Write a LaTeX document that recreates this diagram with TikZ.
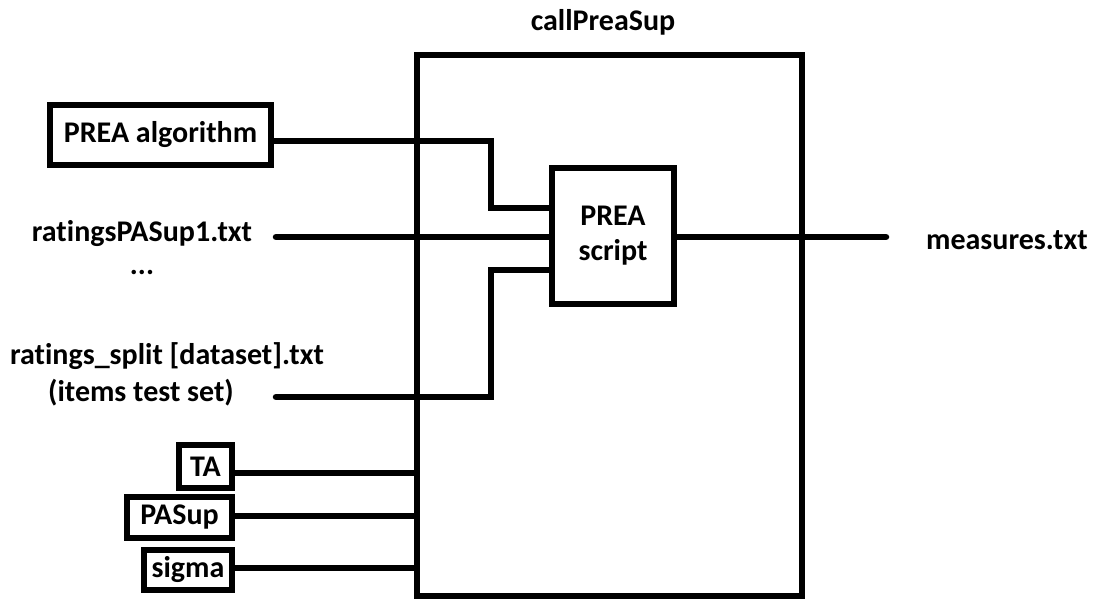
\documentclass[tikz,border=0pt]{standalone}
\usepackage{fontspec}
\setmainfont{Carlito}[Ligatures=NoCommon]
\begin{document}
\begin{tikzpicture}[x=1pt,y=-1pt,
  every node/.style={font=\fontsize{30}{34}\selectfont\bfseries, inner sep=0pt},
  frame/.style={draw, line width=6.5pt},
  wire/.style={line width=6.5pt},
  freewire/.style={line width=6.5pt, line cap=round},
  label/.style={}]
\useasboundingbox (0,0) rectangle (1097,599);

% outer procedure and inner script
\node[frame, minimum width=385pt, minimum height=541pt] (outer) at (609.5,325.5) {};
\node[label] (title) at (603,22) {callPreaSup};
\node[frame, minimum width=122pt, minimum height=136pt, align=center] (script) at (613,236) {PREA\\[1pt]script};

% inputs
\node[frame, minimum width=221pt, minimum height=60pt] (alg) at (160.5,135) {PREA algorithm};
\node[label] (r1) at (142,234) {ratingsPASup1.txt};
\node[label] (dots) at (142,272) {...};
\node[label] (split) at (167,356) {ratings\_split [dataset].txt};
\node[label] (items) at (141,393) {(items test set)};
\node[frame, minimum width=53pt, minimum height=43pt] (ta) at (205.5,466.5) {TA};
\node[frame, minimum width=105pt, minimum height=41pt] (pasup) at (179.5,517.5) {PASup};
\node[frame, minimum width=88pt, minimum height=40pt] (sigma) at (188,570) {sigma};

% output
\node[label] (meas) at (1007,240) {measures.txt};

% free wire ends
\coordinate (r1end) at (276,237);
\coordinate (splitend) at (276,397);
\coordinate (outend) at (886,237);

% connectors
\draw[wire] ([yshift=-6pt]alg.east) -- (491,141) |- ([yshift=28pt]script.west);
\draw[freewire] (r1end) -- (r1end -| script.west);
\draw[freewire] (splitend) -- (491,397) |- ([yshift=-34pt]script.west);
\draw[wire] ([yshift=-6.5pt]ta.east) -- ([yshift=-6.5pt]ta.east -| outer.west);
\draw[wire] ([yshift=1.5pt]pasup.east) -- ([yshift=1.5pt]pasup.east -| outer.west);
\draw[wire] ([yshift=2pt]sigma.east) -- ([yshift=2pt]sigma.east -| outer.west);
\draw[freewire] (script.east |- outend) -- (outend);
\end{tikzpicture}
\end{document}
